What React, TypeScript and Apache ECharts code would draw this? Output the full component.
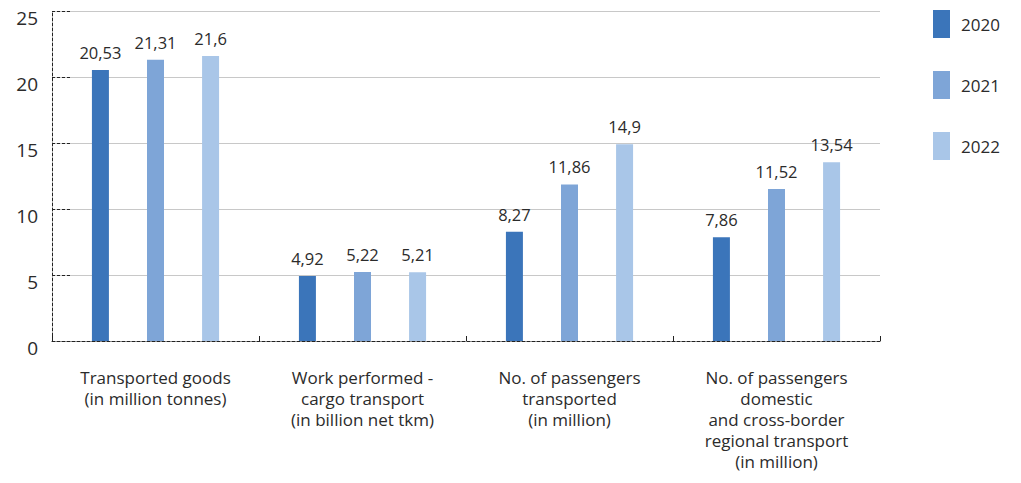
import React, { useEffect, useRef } from "react";
import * as echarts from "echarts";

const categories = [
  "Transported goods\n(in million tonnes)",
  "Work performed -\ncargo transport\n(in billion net tkm)",
  "No. of passengers\ntransported\n(in million)",
  "No. of passengers\ndomestic\nand cross-border\nregional transport\n(in million)",
];
const years = ["2020", "2021", "2022"];
const values2020 = [20.53, 4.92, 8.27, 7.86];
const values2021 = [21.31, 5.22, 11.86, 11.52];
const values2022 = [21.6, 5.21, 14.9, 13.54];
const colors = ["#3b75ba", "#7ea5d7", "#a9c6e8"];
const yTicks = [0, 5, 10, 15, 20, 25];

const FONT = "'Open Sans', sans-serif";
const TEXT = "#2b2b2b";

export default function App() {
  const ref = useRef<HTMLDivElement>(null);
  useEffect(() => {
    if (!ref.current) return;
    const chart = echarts.init(ref.current, undefined, { renderer: "svg" });
    const seriesData = [values2020, values2021, values2022];
    chart.setOption({
      animation: false,
      textStyle: { fontFamily: FONT },
      grid: { left: 52, right: 141, top: 11, bottom: 142, containLabel: false },
      legend: {
        orient: "vertical",
        left: 928,
        top: 5,
        itemWidth: 17,
        itemHeight: 28,
        itemGap: 33,
        icon: "rect",
        data: years,
        textStyle: { fontSize: 17, color: TEXT, fontFamily: FONT, padding: [0, 0, 0, 6] },
      },
      xAxis: {
        type: "category",
        data: categories,
        axisLine: { lineStyle: { color: "#222", type: [3, 2], width: 1 } },
        axisTick: { show: true, inside: true, length: 5, lineStyle: { color: "#222" } },
        axisLabel: {
          margin: 26,
          fontSize: 17,
          lineHeight: 21,
          color: TEXT,
          fontFamily: FONT,
          interval: 0,
        },
      },
      yAxis: {
        type: "value",
        min: 0,
        max: yTicks[yTicks.length - 1],
        interval: 5,
        axisLine: { show: true, lineStyle: { color: "#222", type: [3, 2], width: 1 } },
        axisTick: { show: true, inside: true, length: 20, lineStyle: { color: "#222", type: [3, 2] } },
        splitLine: { show: true, lineStyle: { color: "#c8c8c8", width: 1 } },
        axisLabel: {
          fontSize: 19,
          color: TEXT,
          margin: 14,
          fontFamily: FONT,
          verticalAlign: "top",
          lineHeight: 14,
        },
      },
      series: years.map((y, i) => ({
        name: y,
        type: "bar",
        data: seriesData[i],
        barWidth: 17,
        barGap: "224%",
        itemStyle: { color: colors[i] },
        label: {
          show: true,
          position: "top",
          distance: 9,
          fontSize: 16.5,
          color: TEXT,
          fontFamily: FONT,
          formatter: (p: any) => String(p.value).replace(".", ","),
        },
      })),
    });
    return () => chart.dispose();
  }, []);
  return <div ref={ref} style={{ width: 1021, height: 483, margin: -8 }} />;
}
